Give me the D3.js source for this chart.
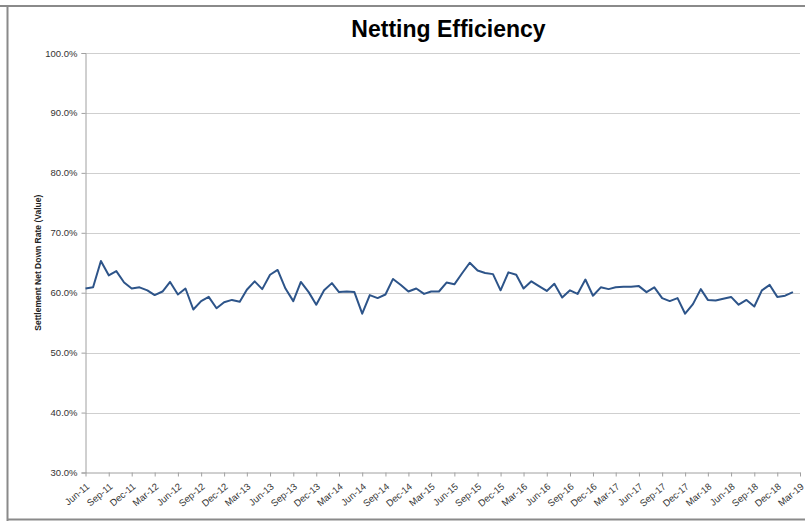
<!DOCTYPE html>
<html>
<head>
<meta charset="utf-8">
<title>Netting Efficiency</title>
<style>
	body { margin: 0; background: #fff; }
	svg { display: block; font-family: 'Liberation Sans', Arial, sans-serif; }
	.title { font-weight: bold; font-size: 23px; fill: #000; }
	.ytitle { font-weight: bold; font-size: 8.5px; fill: #222; }
	.tick text { font-size: 9.5px; fill: #333; }
</style>
</head>
<body>
<svg width="805" height="521"></svg>
<script src="https://d3js.org/d3.v7.min.js"></script>
<script>

// monthly settlement net down rate, Jun-11 .. Feb-19 (percent)
const firstMonth = new Date(2011, 5, 1)
const axisEnd = new Date(2019, 2, 1)
const rates = [
	60.7, 60.9, 65.3, 62.9, 63.6, 61.7, 60.7, 60.9, 60.4, 59.6,
	60.2, 61.8, 59.7, 60.7, 57.2, 58.6, 59.3, 57.4, 58.4, 58.8,
	58.5, 60.5, 61.9, 60.6, 63.0, 63.8, 60.7, 58.6, 61.8, 60.1,
	58.0, 60.4, 61.6, 60.1, 60.2, 60.1, 56.5, 59.6, 59.1, 59.7,
	62.3, 61.3, 60.2, 60.7, 59.8, 60.2, 60.2, 61.7, 61.4, 63.2,
	65.0, 63.7, 63.3, 63.1, 60.4, 63.4, 63.0, 60.7, 61.9, 61.1,
	60.3, 61.5, 59.2, 60.4, 59.8, 62.2, 59.5, 60.9, 60.6, 60.9,
	61.0, 61.0, 61.1, 60.1, 60.9, 59.1, 58.6, 59.1, 56.5, 58.1,
	60.6, 58.8, 58.7, 59.0, 59.3, 58.0, 58.8, 57.7, 60.4, 61.3,
	59.3, 59.5, 60.1
]
const yTicks = [30, 40, 50, 60, 70, 80, 90, 100]

const months = d3.timeMonth.range(firstMonth, axisEnd)
const data = months.map((d, i) => ({date: d, value: rates[i]}))

const svg = d3.select('svg')
const plotLeft = 85.5, plotRight = 800, plotTop = 53, plotBottom = 472.5

svg.append('rect').attr('width', 805).attr('height', 521).attr('fill', '#fff')

// outer frame
const frame = svg.append('g').attr('stroke', '#8a8a8a').attr('stroke-width', 2).attr('fill', 'none')
frame.append('path').attr('d', 'M0,6 H805')
frame.append('path').attr('d', 'M7.5,6 V521')
frame.append('path').attr('d', 'M7.5,519.5 H805')

const x = d3.scaleTime()
	.domain([firstMonth, axisEnd])
	.range([plotLeft, plotRight])

const y = d3.scaleLinear()
	.domain([30, 100])
	.range([plotBottom, plotTop])

// gridlines
svg.append('g')
	.selectAll('line')
	.data(yTicks.slice(1))
	.join('line')
	.attr('x1', plotLeft).attr('x2', plotRight)
	.attr('y1', d => Math.round(y(d)) + 0.5).attr('y2', d => Math.round(y(d)) + 0.5)
	.attr('stroke', '#cfcfcf')
	.attr('stroke-width', 1)

// y axis
const yAxis = svg.append('g')
	.attr('transform', `translate(${plotLeft},0)`)
	.call(d3.axisLeft(y).tickValues(yTicks).tickSize(4).tickPadding(4)
		.tickFormat(d => d3.format('.1f')(d) + '%'))
yAxis.select('.domain').attr('stroke', '#a0a0a0')
yAxis.selectAll('.tick line').attr('stroke', '#a0a0a0')

// x axis, one tick per quarter
const xTicks = d3.timeMonth.range(firstMonth, d3.timeMonth.offset(axisEnd, 1), 3)
const xAxis = svg.append('g')
	.attr('transform', `translate(0,${plotBottom})`)
	.call(d3.axisBottom(x).tickValues(xTicks).tickSize(4).tickSizeOuter(0)
		.tickFormat(d3.timeFormat('%b-%y')))
xAxis.select('.domain').attr('stroke', '#a0a0a0')
xAxis.selectAll('.tick line').attr('stroke', '#a0a0a0')
xAxis.selectAll('.tick text')
	.attr('text-anchor', 'end')
	.attr('dy', null)
	.attr('y', 0)
	.attr('transform', 'translate(4,15) rotate(-40)')

// line
svg.append('path')
	.datum(data)
	.attr('fill', 'none')
	.attr('stroke', '#2d5489')
	.attr('stroke-width', 2)
	.attr('stroke-linejoin', 'round')
	.attr('d', d3.line().x(d => x(d.date)).y(d => y(d.value)))

// titles
svg.append('text')
	.attr('class', 'title')
	.attr('x', 448.5).attr('y', 37)
	.attr('text-anchor', 'middle')
	.text('Netting Efficiency')

svg.append('text')
	.attr('class', 'ytitle')
	.attr('transform', `translate(41,${(plotTop + plotBottom) / 2}) rotate(-90)`)
	.attr('text-anchor', 'middle')
	.text('Settlement Net Down Rate (Value)')

</script>
</body>
</html>
